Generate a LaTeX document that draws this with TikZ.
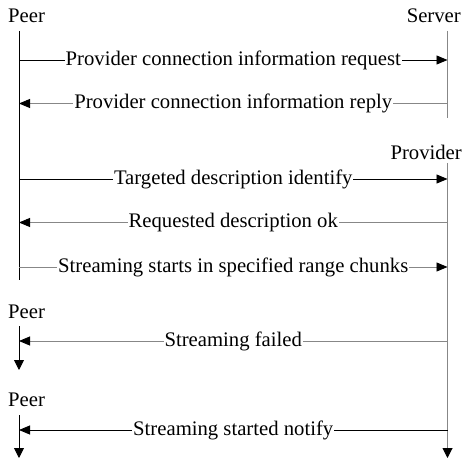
\documentclass[tikz,border=0pt]{standalone}
\usepackage{fontspec}
\setmainfont{Liberation Serif}
\usetikzlibrary{arrows.meta}
\definecolor{lineGrey}{RGB}{135,135,135}
\tikzset{
  actor/.style={inner sep=0pt, font=\fontsize{20.7bp}{24bp}\selectfont},
  lifeline/.style={line width=0.9bp, draw=black},
  greyline/.style={line width=1bp, draw=lineGrey},
  endtip/.style={-{Triangle[length=10bp,width=10bp,color=black]}},
  msgtip/.style={-{Triangle[length=11bp,width=9bp,color=black]}},
  msg/.style={line width=0.9bp},
  lbl/.style={fill=white, inner xsep=1bp, inner ysep=2bp,
    font=\fontsize{20.7bp}{24bp}\selectfont},
}
\begin{document}
\begin{tikzpicture}[x=1bp,y=-1bp]
\useasboundingbox (0,0) rectangle (465,462);

% participant labels
\node[actor, anchor=base west] (peerA) at (8,22.7) {Peer};
\node[actor, anchor=base east] (server) at (461,22.7) {Server};
\node[actor, anchor=base east] (provider) at (462,159.5) {Provider};
\node[actor, anchor=base west] (peerB) at (8,318) {Peer};
\node[actor, anchor=base west] (peerC) at (8,406) {Peer};

% lifeline ends
\coordinate (pAtop) at (19,31);
\coordinate (pAbot) at (19,280);
\coordinate (sTop) at (447.5,31);
\coordinate (sBot) at (447.5,118);
\coordinate (prTop) at (447.5,163);
\coordinate (prBot) at (447.5,458);
\coordinate (pBtop) at (19,326);
\coordinate (pBbot) at (19,370);
\coordinate (pCtop) at (19,415);
\coordinate (pCbot) at (19,458);

% lifelines
\draw[lifeline] (pAtop) -- (pAbot);
\draw[greyline] (sTop) -- (sBot);
\draw[greyline, endtip] (prTop) -- (prBot);
\draw[lifeline, endtip] (pBtop) -- (pBbot);
\draw[lifeline, endtip] (pCtop) -- (pCbot);

% message end points
\coordinate (m1a) at (19,60);    \coordinate (m1b) at (447.5,60);
\coordinate (m2a) at (19,103.5); \coordinate (m2b) at (447.5,103.5);
\coordinate (m3a) at (19,179);   \coordinate (m3b) at (447.5,179);
\coordinate (m4a) at (19,222.5); \coordinate (m4b) at (447.5,222.5);
\coordinate (m5a) at (19,267);   \coordinate (m5b) at (447.5,267);
\coordinate (m6a) at (19,341);   \coordinate (m6b) at (447.5,341);
\coordinate (m7a) at (19,430);   \coordinate (m7b) at (447.5,430);

% messages
\draw[msg, msgtip] (m1a) -- node[lbl] (t1) {Provider connection information request} (m1b);
\draw[msg, msgtip, draw=lineGrey] (m2b) -- node[lbl] (t2) {Provider connection information reply} (m2a);
\draw[msg, msgtip] (m3a) -- node[lbl] (t3) {Targeted description identify} (m3b);
\draw[msg, msgtip, draw=lineGrey] (m4b) -- node[lbl] (t4) {Requested description ok} (m4a);
\draw[msg, msgtip, draw=lineGrey] (m5a) -- node[lbl] (t5) {Streaming starts in specified range chunks} (m5b);
\draw[msg, msgtip, draw=lineGrey] (m6b) -- node[lbl] (t6) {Streaming failed} (m6a);
\draw[msg, msgtip] (m7b) -- node[lbl] (t7) {Streaming started notify} (m7a);
\end{tikzpicture}
\end{document}
